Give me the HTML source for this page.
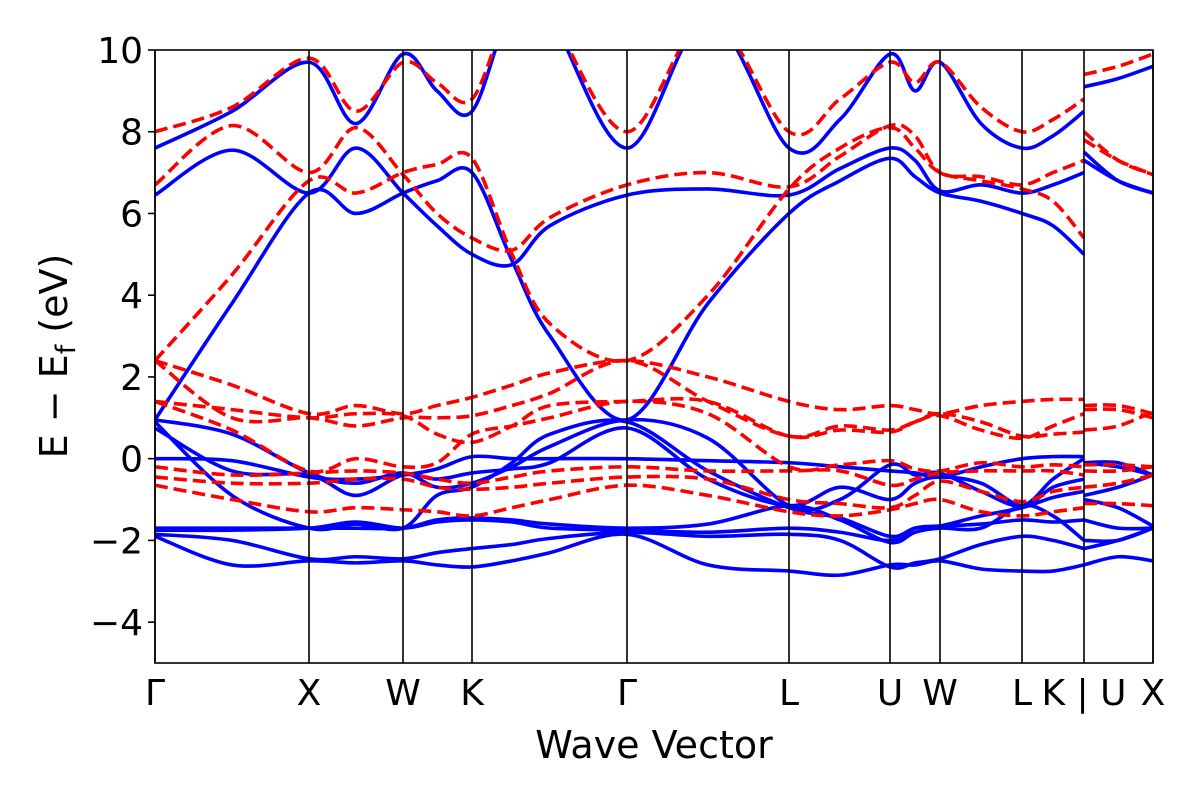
<!DOCTYPE html>
<html><head><meta charset="utf-8"><style>
body{margin:0;background:#fff;width:1200px;height:800px;overflow:hidden}
svg text{font-family:"DejaVu Sans","Liberation Sans",sans-serif;fill:#000}
</style></head><body>
<svg id="chart" width="1200" height="800" xmlns="http://www.w3.org/2000/svg">
<defs><clipPath id="clip"><rect x="155" y="50" width="998" height="613"/></clipPath></defs>
<g id="bands" clip-path="url(#clip)"></g>
<g id="axes"></g>
</svg>
<script>
// path coordinates (k) of samples; duplicate k marks a discontinuity (K|U)
const kSamples=[0,77,154,201,248,282,317,357,395,472,553,634,685,735,760,785,826,867,898,929,929,963,998];
const kTicks=[0,154,248,317,472,634,735,785,867,929,998];
const kLabels=["Γ","X","W","K","Γ","L","U","W","L","K | U","X"];
const yTicks=[-4,-2,0,2,4,6,8,10];
const spinUp=[
[-1.9,-2.6,-2.5,-2.55,-2.5,-2.6,-2.65,-2.5,-2.3,-1.85,-2.6,-2.75,-2.85,-2.6,-2.6,-2.5,-2.7,-2.75,-2.75,-2.6,-2.6,-2.4,-2.5],
[-1.85,-2.0,-2.45,-2.4,-2.45,-2.3,-2.2,-2.1,-1.95,-1.8,-1.9,-1.85,-2.0,-2.65,-2.55,-2.45,-2.1,-1.9,-2.0,-2.2,-2.2,-2.0,-1.7],
[-1.75,-1.75,-1.7,-1.55,-1.7,-1.55,-1.5,-1.55,-1.7,-1.75,-1.8,-1.7,-1.8,-2.0,-1.7,-1.65,-1.6,-1.5,-1.55,-1.5,-1.5,-1.7,-1.7],
[-1.7,-1.7,-1.7,-1.7,-1.7,-1.5,-1.45,-1.5,-1.6,-1.7,-1.6,-1.15,-1.5,-2.05,-1.8,-1.7,-1.7,-1.15,-1.4,-2.0,-2.0,-2.0,-1.7],
[0.9,-0.9,-1.7,-1.6,-1.7,-0.9,-0.7,-0.1,0.6,0.9,-0.3,-1.2,-1.45,-1.9,-1.7,-1.65,-1.4,-1.2,-0.95,-0.8,-1.0,-1.2,-1.65],
[0.75,-0.3,-0.4,-0.9,-0.4,-0.5,-0.35,-0.25,-0.1,0.75,-0.5,-1.15,-0.7,-1.0,-0.6,-0.45,-0.6,-1.15,-0.7,-0.5,-0.9,-0.7,-0.4],
[0.0,-0.05,-0.45,-0.5,-0.4,-0.25,0.05,0.0,0.0,0.0,-0.05,-0.1,-0.2,-0.3,-0.35,-0.45,-0.2,0.0,0.05,0.05,-0.1,-0.1,-0.4],
[0.95,0.6,-0.35,-0.6,-0.35,-0.7,-0.6,-0.2,0.3,0.95,0.5,-1.15,-1.0,-0.15,-0.4,-0.35,-0.8,-1.15,-0.5,0.0,-0.1,-0.2,-0.4],
[0.95,3.8,6.5,6.0,6.5,6.8,7.0,4.85,3.0,0.95,3.8,6.0,6.8,7.35,6.9,6.5,6.3,6.0,5.7,5.0,7.3,6.8,6.5],
[6.45,7.55,6.5,7.6,6.5,5.7,5.0,4.75,5.7,6.45,6.6,6.45,7.1,7.6,7.3,6.55,6.7,6.5,6.7,7.0,7.5,6.8,6.5],
[7.6,8.5,9.7,8.2,9.9,9.0,8.5,11.0,10.8,7.6,10.8,7.6,8.3,9.9,9.0,9.7,8.2,7.6,7.9,8.5,9.1,9.3,9.6]
];
const spinDown=[
[2.4,4.5,6.8,6.5,7.0,7.2,7.35,5.0,3.3,2.4,4.0,6.6,7.6,8.1,7.6,7.0,6.8,6.6,6.3,5.4,8.0,7.3,6.95],
[6.7,8.15,7.0,8.1,6.95,6.0,5.4,5.1,5.9,6.7,7.0,6.65,7.4,8.15,7.9,7.0,6.9,6.7,7.0,7.3,7.8,7.3,6.95],
[8.0,8.6,9.8,8.5,9.7,9.2,8.8,11.0,10.8,8.0,10.8,8.0,8.8,9.7,9.2,9.7,8.6,8.0,8.3,8.8,9.4,9.6,9.9],
[2.4,1.8,1.1,1.3,1.1,1.3,1.5,1.8,2.1,2.4,2.0,1.4,1.2,1.3,1.2,1.1,1.3,1.4,1.45,1.45,1.3,1.3,1.1],
[2.4,1.0,1.0,0.8,1.0,1.0,1.05,1.3,1.6,2.4,1.4,0.55,0.8,0.7,0.9,1.05,0.7,0.5,0.8,1.1,1.2,1.2,1.0],
[1.4,1.2,1.0,1.1,1.05,0.6,0.4,0.8,1.3,1.4,1.4,0.55,0.7,0.65,0.9,1.1,0.9,0.55,0.6,0.65,0.7,0.8,1.15],
[1.4,0.7,-0.3,0.0,-0.2,-0.1,0.6,0.8,1.0,1.4,1.1,-0.2,-0.15,-0.05,-0.25,-0.3,-0.1,-0.2,-0.15,-0.2,-0.15,-0.15,-0.2],
[-0.2,-0.4,-0.35,-0.3,-0.35,-0.5,-0.6,-0.45,-0.3,-0.2,-0.3,-0.3,-0.3,-0.65,-0.5,-0.35,-0.3,-0.3,-0.3,-0.4,-0.3,-0.3,-0.2],
[-0.45,-0.6,-0.6,-0.5,-0.5,-0.7,-0.75,-0.7,-0.6,-0.45,-0.5,-1.0,-1.1,-1.2,-0.9,-0.55,-0.8,-1.05,-0.8,-0.7,-0.7,-0.6,-0.4],
[-0.65,-1.0,-1.3,-1.2,-1.25,-1.3,-1.4,-1.2,-1.0,-0.65,-0.9,-1.3,-1.4,-1.25,-1.1,-1.0,-1.3,-1.4,-1.3,-1.2,-1.1,-1.1,-1.15]
];
const X0=155,X1=1153,Y0=50,Y1=663,kMax=998,eMin=-5,eMax=10;
const xs=k=>X0+k/kMax*(X1-X0);
const ys=e=>Y0+(eMax-e)/(eMax-eMin)*(Y1-Y0);
const NS="http://www.w3.org/2000/svg";
function mk(tag,attrs,parent){const el=document.createElementNS(NS,tag);for(const a in attrs)el.setAttribute(a,attrs[a]);parent.appendChild(el);return el;}
function crPath(pts){
  let d=`M${pts[0][0]},${pts[0][1]}`;
  for(let i=0;i<pts.length-1;i++){
    const p0=pts[Math.max(0,i-1)],p1=pts[i],p2=pts[i+1],p3=pts[Math.min(pts.length-1,i+2)];
    const c1x=p1[0]+(p2[0]-p0[0])/6,c1y=p1[1]+(p2[1]-p0[1])/6;
    const c2x=p2[0]-(p3[0]-p1[0])/6,c2y=p2[1]-(p3[1]-p1[1])/6;
    d+=`C${c1x},${c1y} ${c2x},${c2y} ${p2[0]},${p2[1]}`;
  }
  return d;
}
function drawBand(vals,color,dash,name){
  const g=document.getElementById('bands');
  let piece=[];const pieces=[];
  for(let i=0;i<kSamples.length;i++){
    if(i>0&&kSamples[i]===kSamples[i-1]){pieces.push(piece);piece=[];}
    piece.push([xs(kSamples[i]),ys(vals[i])]);
  }
  pieces.push(piece);
  pieces.forEach(p=>{
    const el=mk('path',{d:crPath(p),fill:'none',stroke:color,'stroke-width':3.6,'stroke-linejoin':'round'},g);
    if(dash)el.setAttribute('stroke-dasharray','13,6');
    
    
  });
}
spinUp.forEach((b,i)=>drawBand(b,'#0000ff',false,'spin-up-band-'+i));
spinDown.forEach((b,i)=>drawBand(b,'#ff0000',true,'spin-down-band-'+i));
const ax=document.getElementById('axes');
kTicks.forEach((k,i)=>{
  const l=mk('line',{x1:xs(k),x2:xs(k),y1:Y0,y2:Y1,stroke:'#000','stroke-width':1.6},ax);
  
  
  const t=mk('text',{x:xs(k),y:705,'font-size':36,'text-anchor':'middle'},ax);
  t.textContent=kLabels[i];
  
  
});
yTicks.forEach(v=>{
  const l=mk('line',{x1:X0-7,x2:X0,y1:ys(v),y2:ys(v),stroke:'#000','stroke-width':1.6},ax);
  
  
  const t=mk('text',{x:X0-12,y:ys(v)+13,'font-size':36,'text-anchor':'end'},ax);
  t.textContent=v<0?'\u2212'+Math.abs(v):String(v);
  
  
});
const fr=mk('rect',{x:X0,y:Y0,width:X1-X0,height:Y1-Y0,fill:'none',stroke:'#000','stroke-width':1.6},ax);


const xt=mk('text',{x:654,y:758,'font-size':38,'text-anchor':'middle'},ax);
xt.textContent='Wave Vector';


const yt=mk('text',{x:0,y:0,'font-size':38,'text-anchor':'middle',transform:'translate(67,356) rotate(-90)'},ax);
yt.innerHTML='E − E<tspan font-size="27" dy="8">f</tspan><tspan dy="-8"> (eV)</tspan>';


</script>
</body></html>
